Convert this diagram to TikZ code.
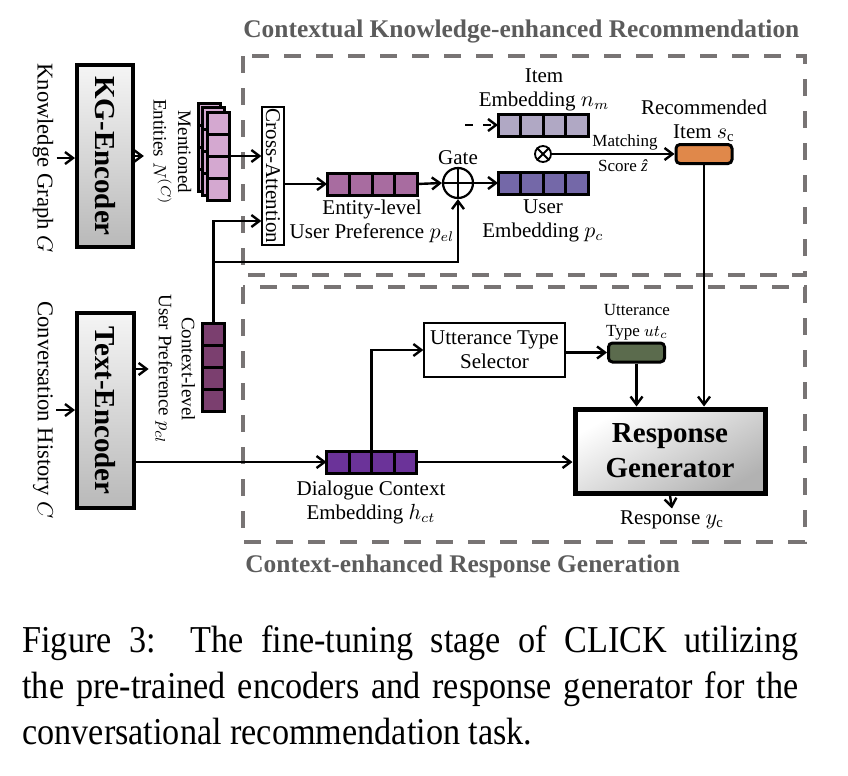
\documentclass[tikz,border=0pt]{standalone}
\usepackage{fontspec}
\setmainfont{Liberation Serif}
\newfontfamily\capfont[FakeStretch=0.9]{Liberation Serif}
\usetikzlibrary{arrows.meta,calc}

\definecolor{boxgray}{RGB}{120,116,116}
\definecolor{titlegray}{RGB}{92,92,92}
\definecolor{entcol}{RGB}{212,168,208}
\definecolor{pelcol}{RGB}{168,108,160}
\definecolor{itemcol}{RGB}{176,168,196}
\definecolor{usercol}{RGB}{116,104,168}
\definecolor{ctxcol}{RGB}{123,63,111}
\definecolor{dlgcol}{RGB}{107,51,153}
\definecolor{reccol}{RGB}{224,136,74}
\definecolor{utcol}{RGB}{91,107,77}

\begin{document}
\begin{tikzpicture}[x=0.5pt,y=-0.5pt,
	conn/.style={line width=1.2pt},
	arr/.style={conn,-{Straight Barb[length=4pt,width=6pt]}},
	cellsep/.style={line width=1.5pt},
	vech/.style={draw,line width=1.5pt,minimum width=45pt,minimum height=11pt,inner sep=0pt,outer sep=0pt},
	vecv/.style={draw,line width=1.5pt,minimum width=11pt,minimum height=44pt,inner sep=0pt,outer sep=0pt},
	tagbox/.style={draw,line width=1.5pt,rounded corners=2pt,minimum width=28pt,minimum height=9.5pt,inner sep=0pt},
	encoder/.style={draw,line width=2pt,top color=gray!8,bottom color=gray!55,inner sep=0pt,font=\bfseries\fontsize{14.5}{16}\selectfont},
	stagebox/.style={draw=boxgray,line width=2pt,dash pattern=on 8.5pt off 7.5pt},
	stagetitle/.style={anchor=west,text=titlegray,inner sep=0pt,font=\bfseries\fontsize{12.7}{14}\selectfont},
	lbl/.style={align=center,inner sep=1pt,font=\fontsize{10.5}{12}\selectfont},
	smalllbl/.style={align=center,inner sep=0.5pt,font=\fontsize{8.5}{10.5}\selectfont},
	sidelbl/.style={inner sep=1.5pt,font=\fontsize{11.3}{13}\selectfont},
	rotlbl/.style={inner sep=1.5pt,font=\fontsize{9.5}{10.5}\selectfont}]
	\useasboundingbox (0,0) rectangle (848,776);
	% the two stages
	\draw[stagebox] (243,56) rectangle (805,275);
	\draw[stagebox] (243,287) rectangle (805,542);
	\node[stagetitle] (ktitle) at (243,31) {Contextual Knowledge-enhanced Recommendation};
	\node[stagetitle] (rtitle) at (245,566) {Context-enhanced Response Generation};
	% encoders
	\node[sidelbl] (kglab) at (43,158) {\rotatebox{-90}{Knowledge Graph $G$}};
	\node[sidelbl] (convlab) at (43,410) {\rotatebox{-90}{Conversation History $C$}};
	\node[encoder,minimum width=28pt,minimum height=91pt] (kg) at (105,156) {\rotatebox{-90}{KG-Encoder}};
	\node[encoder,minimum width=28.5pt,minimum height=97.5pt] (te) at (105.5,410.5) {\rotatebox{-90}{Text-Encoder}};
	\node[rotlbl] (entlab) at (170,152) {\rotatebox{-90}{\begin{tabular}{@{}c@{}}Mentioned\\Entities $N^{(C)}$\end{tabular}}};
	\node[rotlbl,font=\fontsize{9.5}{11.5}\selectfont] (ctxlab) at (175,369) {\rotatebox{-90}{\begin{tabular}{@{}c@{}}Context-level\\User Preference $p_{cl}$\end{tabular}}};
	% vectors
	\foreach \k/\d in {ent3/9,ent2/4.5,ent1/0}{
		\node[vecv,fill=entcol] (\k) at ({218-\d},{156-\d}) {};
		\foreach \i in {1,2,3}
			\draw[cellsep] ($(\k.north west)!\i/4!(\k.south west)$) -- ($(\k.north east)!\i/4!(\k.south east)$);
	}
	\node[vecv,fill=ctxcol] (ctx) at (213.5,367) {};
	\foreach \i in {1,2,3}
		\draw[cellsep] ($(ctx.north west)!\i/4!(ctx.south west)$) -- ($(ctx.north east)!\i/4!(ctx.south east)$);
	\node[vech,fill=pelcol] (pel) at (372,184) {};
	\node[vech,fill=itemcol] (nm) at (543,125) {};
	\node[vech,fill=usercol] (pc) at (543,183.5) {};
	\node[vech,fill=dlgcol] (hct) at (371.5,462) {};
	\foreach \v in {pel,nm,pc,hct}
		\foreach \i in {1,2,3}
			\draw[cellsep] ($(\v.north west)!\i/4!(\v.north east)$) -- ($(\v.south west)!\i/4!(\v.south east)$);
	\node[tagbox,fill=reccol] (rec) at (704,154) {};
	\node[tagbox,fill=utcol] (utc) at (636.5,352.5) {};
	% blocks
	\node[draw,line width=0.6pt,fill=white,minimum width=11pt,minimum height=69pt,inner sep=0pt,font=\fontsize{10.5}{12}\selectfont] (ca) at (273,176) {\rotatebox{-90}{Cross-Attention}};
	\node[draw,circle,line width=1.1pt,minimum size=15pt,inner sep=0pt] (gate) at (458,183) {};
	\draw[line width=1.1pt] (gate.north) -- (gate.south) (gate.west) -- (gate.east);
	\node[draw,circle,line width=0.9pt,minimum size=8pt,inner sep=0pt] (ot) at (543,154) {};
	\draw[line width=0.9pt] (ot.45) -- (ot.225) (ot.135) -- (ot.315);
	\node[draw,line width=0.6pt,minimum width=70.5pt,minimum height=27pt,inner sep=0pt,lbl] (uts) at (494.5,350) {Utterance Type\\Selector};
	\node[draw,line width=2.5pt,top color=white,bottom color=gray!60,shading angle=30,minimum width=95pt,minimum height=42pt,align=center,font=\bfseries\fontsize{14.5}{17.5}\selectfont] (rg) at (670,451) {Response\\Generator};
	% labels
	\node[lbl] (gatelab) at (458,158) {Gate};
	\node[lbl] (pellab) at (372,221) {Entity-level\\User Preference $p_{el}$};
	\node[lbl] (pclab) at (543,221) {User\\Embedding $p_c$};
	\node[lbl] (nmlab) at (544,90) {Item\\Embedding $n_m$};
	\node[lbl] (reclab) at (704,121) {Recommended\\Item $s_{\mathrm{c}}$};
	\node[smalllbl] (matchlab) at (625,142) {Matching};
	\node[smalllbl] (scorelab) at (623,166) {Score \textit{ẑ}};
	\node[smalllbl] (utclab) at (637,322) {Utterance\\Type $ut_c$};
	\node[lbl] (hctlab) at (371,502) {Dialogue Context\\Embedding $h_{ct}$};
	\node[lbl] (resplab) at (672,520) {Response $y_{\mathrm{c}}$};
	% connectors
	\coordinate (caB) at (ca.west |- 0,221);
	\coordinate (jn) at (ctx.north |- 0,262);
	\coordinate (nmin) at (465,125);
	\draw[arr] (kglab.east) -- (kglab.east -| kg.west);
	\draw[arr] (kg.east) -- (kg.east -| entlab.west);
	\draw[arr] (convlab.east) -- (convlab.east -| te.west);
	\draw[arr] (te.east |- ctxlab.west) -- (ctxlab.west);
	\draw[arr] (te.east |- hct.west) -- (hct.west);
	\draw[arr] (ent1.east) -- (ent1.east -| ca.west);
	\draw[arr] (ca.east |- pel.west) -- (pel.west);
	\draw[arr] (pel.east) -- (gate.west);
	\draw[arr] (gate.east) -- (gate.east -| pc.west);
	\draw[arr] (ctx.north) |- (caB);
	\draw[arr] (jn) -| (gate.south);
	\draw[arr,dash pattern=on 4pt off 5pt] (nmin) -- (nm.west);
	\draw[arr] (ot.east) -- (rec.west);
	\draw[arr] (rec.south) -- (rec.south |- rg.north);
	\draw[arr] (hct.north) |- (uts.west);
	\draw[arr] (hct.east) -- (hct.east -| rg.west);
	\draw[arr] (uts.east |- utc.west) -- (utc.west);
	\draw[arr] (utc.south) -- (utc.south |- rg.north);
	\draw[arr] (rg.south) -- (resplab.north);
	% caption
	\node[anchor=north west,inner sep=0pt,text width=388pt,align=justify,font=\capfont\fontsize{19}{23}\selectfont] (caption) at (22,625) {Figure 3:\ \ The fine-tuning stage of CLICK utilizing\linebreak the pre-trained encoders and response generator for the\linebreak conversational recommendation task.};
\end{tikzpicture}
\end{document}
